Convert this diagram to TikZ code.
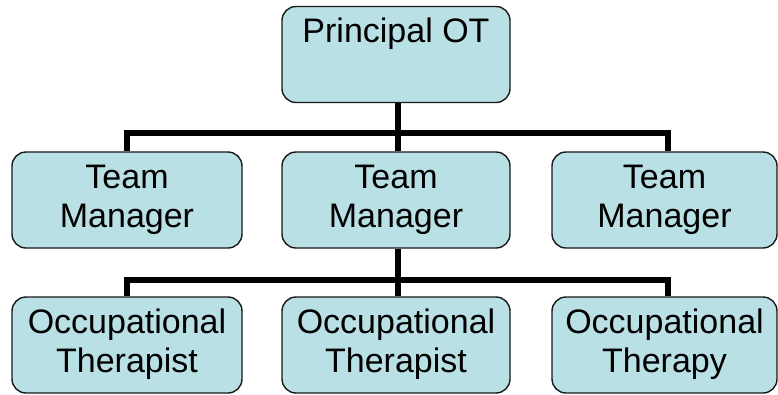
\documentclass[tikz,border=0pt]{standalone}
\usepackage{fontspec}
\setmainfont{Liberation Sans}
\definecolor{boxfill}{RGB}{185,224,228}
\begin{document}
\begin{tikzpicture}[x=1pt,y=-1pt,
  box/.style={draw=black!90, line width=1.4pt, fill=boxfill, rounded corners=14pt,
    minimum height=96pt, align=center, inner sep=0pt,
    font=\fontsize{34}{39}\selectfont},
  conn/.style={draw=black, line width=6.5pt, line join=miter}]
\useasboundingbox (0,0) rectangle (778,394);
\node[box, minimum width=228pt] (P) at (396,54.5) {\strut Principal OT\\\strut};
\node[box, minimum width=230pt] (T1) at (127,200) {\strut Team\\\strut Manager};
\node[box, minimum width=228pt] (T2) at (396,200) {\strut Team\\\strut Manager};
\node[box, minimum width=225pt] (T3) at (664.5,200) {\strut Team\\\strut Manager};
\node[box, minimum width=230pt] (O1) at (127,345) {\strut Occupational\\\strut Therapist};
\node[box, minimum width=228pt] (O2) at (396,345) {\strut Occupational\\\strut Therapist};
\node[box, minimum width=225pt] (O3) at (664.5,345) {\strut Occupational\\\strut Therapy};
\coordinate (bar1) at (0,133);
\coordinate (bar2) at (0,280);
\draw[conn] ([xshift=2pt]P.south) -- ([xshift=2pt]P.south |- bar1);
\draw[conn] (T1.north) -- (T1.north |- bar1) -- ([xshift=3.5pt]T3.north |- bar1) -- ([xshift=3.5pt]T3.north);
\draw[conn] ([xshift=2pt]T2.north) -- ([xshift=2pt]T2.north |- bar1);
\draw[conn] ([xshift=2pt]T2.south) -- ([xshift=2pt]T2.south |- bar2);
\draw[conn] (O1.north) -- (O1.north |- bar2) -- ([xshift=3.5pt]O3.north |- bar2) -- ([xshift=3.5pt]O3.north);
\draw[conn] ([xshift=2pt]O2.north) -- ([xshift=2pt]O2.north |- bar2);
\end{tikzpicture}
\end{document}
